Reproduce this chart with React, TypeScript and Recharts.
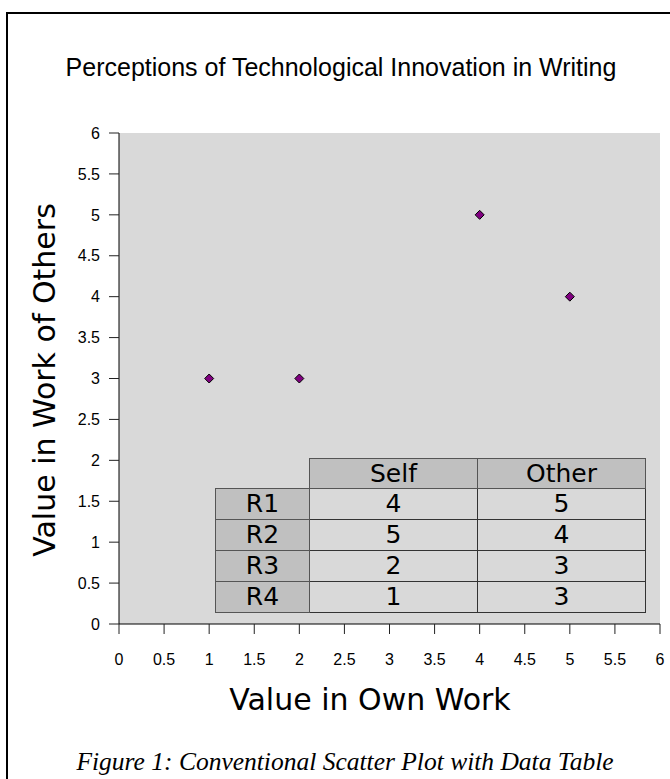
import React from 'react'
import { ScatterChart, Scatter, XAxis, YAxis, CartesianGrid, Customized } from 'recharts'

const ROW_LABELS = ['R1', 'R2', 'R3', 'R4']
const SELF_VALUES = [4, 5, 2, 1]
const OTHER_VALUES = [5, 4, 3, 3]
const AXIS_TICKS = [0, 0.5, 1, 1.5, 2, 2.5, 3, 3.5, 4, 4.5, 5, 5.5, 6]

const TITLE = 'Perceptions of Technological Innovation in Writing'
const X_LABEL = 'Value in Own Work'
const Y_LABEL = 'Value in Work of Others'
const CAPTION = 'Figure 1: Conventional Scatter Plot with Data Table'

const points = ROW_LABELS.map((r, i) => ({ name: r, self: SELF_VALUES[i], other: OTHER_VALUES[i] }))

const SANS = '"Liberation Sans", Arial, sans-serif'
const DEJAVU = '"DejaVu Sans", sans-serif'

function Diamond(props: any) {
  const { cx, cy } = props
  const r = 4.5
  return (
    <polygon
      points={`${cx},${cy - r} ${cx + r},${cy} ${cx},${cy + r} ${cx - r},${cy}`}
      fill="#800080"
      stroke="#000"
      strokeWidth={1}
    />
  )
}

function Labels() {
  return (
    <g>
      <text x={341} y={76} textAnchor="middle" fontFamily={SANS} fontSize={25} fill="#000">
        {TITLE}
      </text>
      <text
        x={0}
        y={0}
        transform="translate(55, 380) rotate(-90)"
        textAnchor="middle"
        fontFamily={DEJAVU}
        fontSize={30}
        fill="#000"
      >
        {Y_LABEL}
      </text>
      <text x={370} y={710} textAnchor="middle" fontFamily={DEJAVU} fontSize={30} fill="#000">
        {X_LABEL}
      </text>
    </g>
  )
}

const headCell: React.CSSProperties = {
  background: '#c0c0c0',
  border: '1px solid #555',
  padding: 0,
  textAlign: 'center',
}
const dataCell: React.CSSProperties = {
  background: '#d9d9d9',
  border: '1px solid #333',
  padding: 0,
  textAlign: 'center',
}

function DataTable() {
  return (
    <table
      style={{
        position: 'absolute',
        left: 215,
        top: 458,
        borderCollapse: 'collapse',
        fontFamily: DEJAVU,
        fontSize: 25,
        lineHeight: '26px',
        color: '#000',
        tableLayout: 'fixed',
      }}
    >
      <colgroup>
        <col style={{ width: 94 }} />
        <col style={{ width: 168 }} />
        <col style={{ width: 168 }} />
      </colgroup>
      <tbody>
        <tr style={{ height: 30 }}>
          <td style={{ border: 'none', padding: 0 }} />
          <td style={headCell}>Self</td>
          <td style={headCell}>Other</td>
        </tr>
        {ROW_LABELS.map((r, i) => (
          <tr key={r} style={{ height: 31 }}>
            <td style={headCell}>{r}</td>
            <td style={dataCell}>{SELF_VALUES[i]}</td>
            <td style={dataCell}>{OTHER_VALUES[i]}</td>
          </tr>
        ))}
      </tbody>
    </table>
  )
}

export default function App() {
  return (
    <div
      style={{
        position: 'fixed',
        left: 0,
        top: 0,
        width: 670,
        height: 779,
        overflow: 'hidden',
        background: '#fff',
      }}
    >
      <div
        style={{
          position: 'absolute',
          left: 6,
          top: 12,
          width: 720,
          height: 820,
          border: '2px solid #000',
          boxSizing: 'border-box',
        }}
      />
      <div style={{ position: 'absolute', left: 0, top: 0 }}>
        <ScatterChart width={670} height={779} margin={{ top: 133, right: 10, bottom: 125, left: 0 }}>
          <CartesianGrid fill="#d9d9d9" stroke="none" horizontal={false} vertical={false} />
          <XAxis
            type="number"
            dataKey="self"
            domain={[0, 6]}
            ticks={AXIS_TICKS}
            interval={0}
            height={30}
            tickSize={10}
            tickMargin={20}
            axisLine={{ stroke: '#000' }}
            tickLine={{ stroke: '#222' }}
            tick={{ fill: '#000', fontSize: 16, fontFamily: SANS }}
          />
          <YAxis
            type="number"
            dataKey="other"
            domain={[0, 6]}
            ticks={AXIS_TICKS}
            interval={0}
            width={119}
            tickSize={10}
            tickMargin={9}
            axisLine={{ stroke: '#000' }}
            tickLine={{ stroke: '#222' }}
            tick={{ fill: '#000', fontSize: 16, fontFamily: SANS }}
          />
          <Scatter data={points} shape={<Diamond />} isAnimationActive={false} />
          <Customized component={<Labels />} />
        </ScatterChart>
      </div>
      <DataTable />
      <div
        style={{
          position: 'absolute',
          left: 0,
          width: 690,
          top: 747,
          lineHeight: '30px',
          textAlign: 'center',
          fontFamily: '"Liberation Serif", "Times New Roman", serif',
          fontStyle: 'italic',
          fontSize: 25.5,
        }}
      >
        {CAPTION}
      </div>
    </div>
  )
}
